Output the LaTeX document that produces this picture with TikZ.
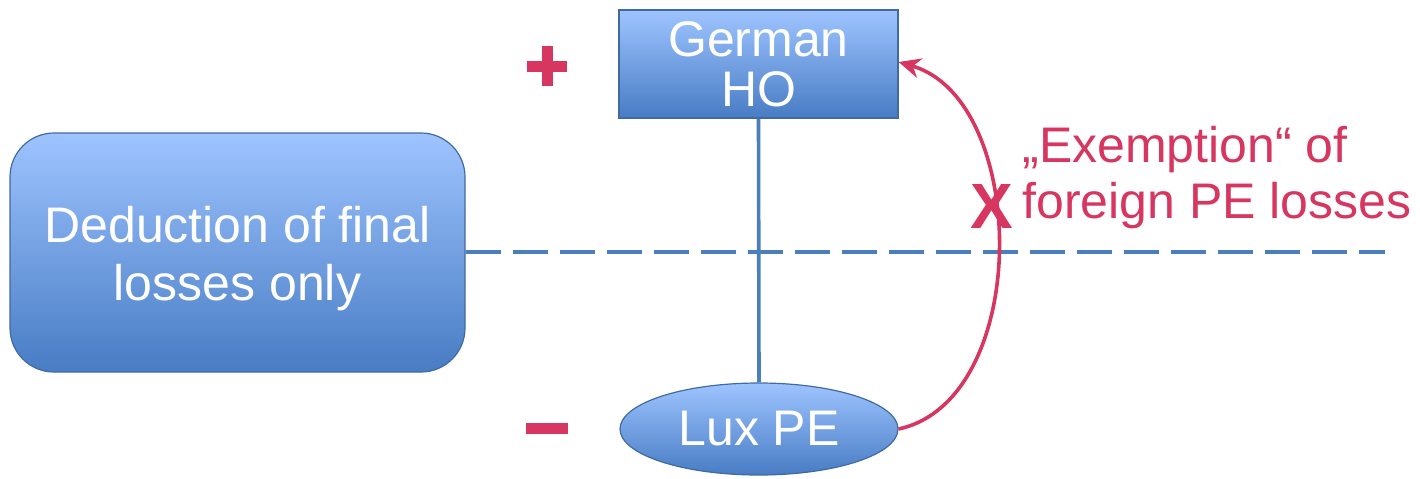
\documentclass[tikz,border=0pt]{standalone}
\usepackage{fontspec}
\setmainfont{Liberation Sans}
\usetikzlibrary{arrows.meta,shapes.geometric}
\definecolor{accent}{RGB}{214,54,96}
\definecolor{lineblue}{RGB}{74,126,190}
\definecolor{boxtop}{RGB}{158,196,255}
\definecolor{boxbot}{RGB}{72,124,196}
\begin{document}
\begin{tikzpicture}[x=0.5pt,y=-0.5pt,
  bluebox/.style={draw=lineblue!85!black, line width=0.6pt, top color=boxtop, bottom color=boxbot,
    text=white, align=center, inner sep=0pt},
  redtext/.style={text=accent, align=left, inner sep=0pt,
    font=\fontsize{25pt}{28pt}\selectfont},
  sign/.style={fill=accent, draw=none, inner sep=0pt}]
\useasboundingbox (0,0) rectangle (1420,478);

% main boxes
\node[bluebox, rounded corners=22pt, minimum width=227.5pt, minimum height=119.5pt] (deduct) at (237.5,252.5) {};
\node[text=white, align=center, inner sep=0pt, font=\fontsize{25pt}{29pt}\selectfont,
  yshift=-3pt] (deducttext) at (deduct.center) {Deduction of final\\losses only};
\node[bluebox, rectangle, minimum width=139.5pt, minimum height=54pt,
  font=\fontsize{25pt}{25pt}\selectfont] (ho) at (758.5,64) {German\\HO};
\node[bluebox, ellipse, minimum width=139pt, minimum height=46pt,
  font=\fontsize{25pt}{25pt}\selectfont] (pe) at (759,429) {Lux PE};

% link between head office and permanent establishment
\draw[lineblue, line width=1.8pt] (ho.south) -- (pe.north);

% border line
\coordinate (dashend) at (1385,252);
\draw[lineblue, line width=2pt, dash pattern=on 17.5pt off 6pt] (deduct.east |- dashend) -- (dashend);

% plus and minus signs
\node[sign, minimum width=20pt, minimum height=5.5pt] (plush) at (547,66) {};
\node[sign, minimum width=5.5pt, minimum height=20pt] (plusv) at (547,66) {};
\node[sign, minimum width=21pt, minimum height=5.5pt] (minus) at (547,428) {};

% loss transfer arc, crossed out
\draw[accent, line width=1.8pt, -{Stealth[length=11pt,width=10pt]}]
  (pe.east) .. controls (1032,400) and (1030,100) .. (ho.east |- 0,62);
\node[text=accent, inner sep=0pt, font=\fontsize{32pt}{32pt}\selectfont\bfseries] (cross) at (992,206) {X};

\node[redtext, anchor=base west] (label) at (1022,162) {„Exemption“ of};
\node[redtext, anchor=base west] (label2) at (1022,218) {foreign PE losses};
\end{tikzpicture}
\end{document}
